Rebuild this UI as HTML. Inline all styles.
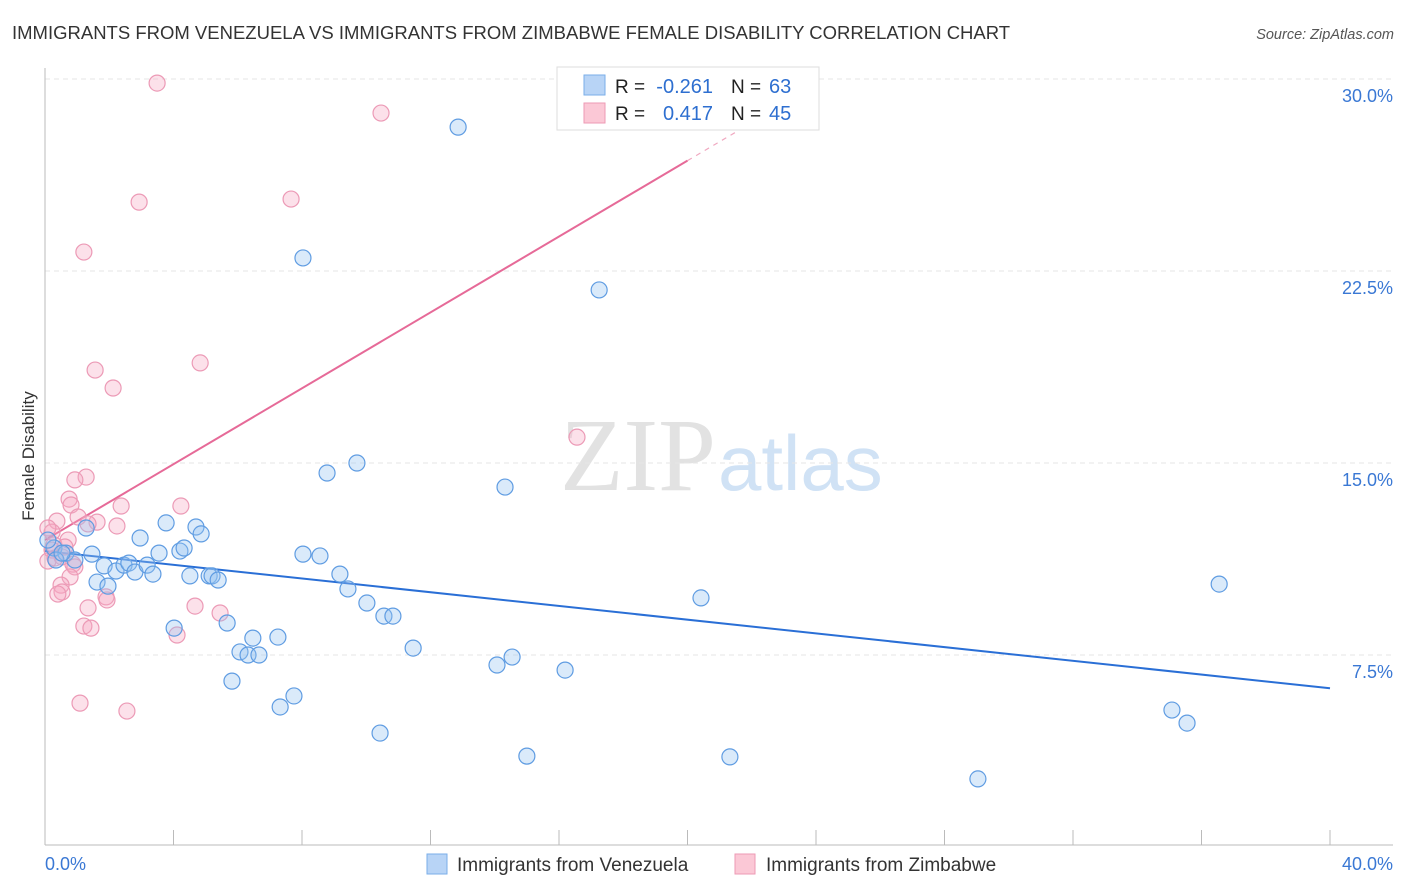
<!DOCTYPE html>
<html><head><meta charset="utf-8"><style>
body{margin:0;background:#fff;font-family:"Liberation Sans",sans-serif;}
svg{display:block}
</style></head><body>
<svg id="chart" width="1406" height="892">
<text x="12" y="39" font-size="18.5" fill="#333">IMMIGRANTS FROM VENEZUELA VS IMMIGRANTS FROM ZIMBABWE FEMALE DISABILITY CORRELATION CHART</text>
<text x="1394" y="39" font-size="14.5" fill="#555" font-style="italic" text-anchor="end">Source: ZipAtlas.com</text>
<text x="34" y="456" font-size="17" fill="#333" text-anchor="middle" transform="rotate(-90 34 456)">Female Disability</text>
<text x="716" y="490" font-size="104" fill="#e2e2e2" text-anchor="end" font-family="Liberation Serif, serif">ZIP</text>
<text x="718" y="490" font-size="78" fill="#d0e2f5">atlas</text>
<g id="grid"></g><g id="axes"></g><g id="lines"></g><g id="pts"></g>
<g>
<rect x="557" y="67" width="262" height="63" fill="#fff" stroke="#ddd"/>
<rect x="584" y="75" width="21" height="20" fill="#b8d4f6" stroke="#7aaee8"/>
<rect x="584" y="103" width="21" height="20" fill="#fbc8d6" stroke="#ee9ab4"/>
<text x="615" y="93" font-size="19" fill="#222">R =</text>
<text x="713" y="93" font-size="20" fill="#2e6fd0" text-anchor="end">-0.261</text>
<text x="731" y="93" font-size="19" fill="#222">N =</text>
<text x="769" y="93" font-size="20" fill="#2e6fd0">63</text>
<text x="615" y="120" font-size="19" fill="#222">R =</text>
<text x="713" y="120" font-size="20" fill="#2e6fd0" text-anchor="end">0.417</text>
<text x="731" y="120" font-size="19" fill="#222">N =</text>
<text x="769" y="120" font-size="20" fill="#2e6fd0">45</text>
</g>
<g>
<rect x="427" y="854" width="20" height="20" fill="#b8d4f6" stroke="#7aaee8"/>
<text x="457" y="871" font-size="19" fill="#333">Immigrants from Venezuela</text>
<rect x="735" y="854" width="20" height="20" fill="#fbc8d6" stroke="#ee9ab4"/>
<text x="766" y="871" font-size="19" fill="#333">Immigrants from Zimbabwe</text>
</g>
</svg>
<script>
const yTicks=[7.5,15,22.5,30];
const yTickLabels=["7.5%","15.0%","22.5%","30.0%"];
const xTickLabels=["0.0%","40.0%"];
const blueX=[12.86,8.03,17.25,8.78,9.71,14.32,36.55,20.42,1.28,3.77,4.70,4.86,2.96,0.28,0.65,1.46,3.55,4.20,4.33,8.03,8.56,1.84,2.21,2.46,2.61,2.80,3.18,3.36,1.62,1.96,4.51,5.11,5.20,5.39,9.18,9.43,10.02,10.55,10.83,5.67,4.02,6.47,7.25,6.07,6.32,6.66,11.46,14.07,14.54,16.19,5.82,7.75,7.32,10.43,15.00,21.32,29.04,35.08,35.55,0.09,0.34,0.93,0.53];
const blueY=[28.12,23.01,21.76,14.61,15.00,14.06,10.27,9.73,12.46,12.66,12.50,12.23,12.07,11.68,11.48,11.44,11.48,11.56,11.68,11.44,11.37,10.98,10.78,11.01,11.09,10.74,11.01,10.66,10.35,10.19,10.59,10.59,10.59,10.43,10.66,10.08,9.53,9.02,9.02,8.75,8.55,8.16,8.20,7.62,7.50,7.50,7.77,7.11,7.42,6.91,6.48,5.90,5.47,4.45,3.55,3.52,2.66,5.35,4.84,11.99,11.21,11.21,11.48];
const pinkX=[3.49,10.46,2.93,7.66,1.21,4.83,1.56,2.12,16.56,1.28,0.93,0.75,0.81,4.23,2.37,1.03,1.62,2.24,1.34,0.37,0.22,0.72,0.28,0.22,0.53,0.09,0.87,0.93,0.78,0.50,0.53,0.40,1.34,1.90,1.93,4.67,5.45,1.21,1.43,4.11,1.09,2.55,0.09,0.31,0.62];
const pinkY=[29.84,28.67,25.19,25.31,23.24,18.91,18.63,17.93,16.01,14.45,14.34,13.59,13.36,13.32,13.32,12.89,12.69,12.54,12.62,12.73,12.30,11.99,11.80,11.60,11.33,11.17,11.05,10.94,10.55,10.23,9.96,9.88,9.34,9.77,9.65,9.41,9.14,8.63,8.55,8.28,5.62,5.31,12.46,11.29,11.72];
const blueTrend=[11.56,-0.134]; // intercept, slope
const pinkTrend=[11.99,0.741];
const NS="http://www.w3.org/2000/svg";
const X=v=>45+v/40*1285, Y=v=>847-v/7.5*192;
function mk(t,a,p){const e=document.createElementNS(NS,t);for(const k in a)e.setAttribute(k,a[k]);p.appendChild(e);return e;}
const grid=document.getElementById('grid'),axes=document.getElementById('axes'),lines=document.getElementById('lines'),pts=document.getElementById('pts');
yTicks.forEach((v,i)=>{
 const l=mk('line',{x1:45,x2:1393,y1:Y(v),y2:Y(v),stroke:'#e6e6e6','stroke-dasharray':'5,4'},grid);
 
 
 const t=mk('text',{x:1393,y:Y(v)+23,'font-size':18,fill:'#3a78d4','text-anchor':'end'},axes);
 t.textContent=yTickLabels[i];
 
 
});
mk('line',{x1:45,x2:45,y1:68,y2:845,stroke:'#bbb'},axes);
mk('line',{x1:45,x2:1393,y1:845,y2:845,stroke:'#bbb'},axes);
for(let i=0;i<=10;i++){const tk=mk('line',{x1:X(i*4),x2:X(i*4),y1:830,y2:845,stroke:'#bbb'},axes);
 
 }
[[0,'start',45],[1,'end',1393]].forEach(([i,a,x])=>{const t=mk('text',{x:x,y:870,'font-size':18,fill:'#3a78d4','text-anchor':a},axes);t.textContent=xTickLabels[i];
 
 });
const bl=mk('line',{x1:X(0),y1:Y(blueTrend[0]),x2:X(40),y2:Y(blueTrend[0]+40*blueTrend[1]),stroke:'#2a6fd6','stroke-width':2},lines);


const pl=mk('line',{x1:X(0),y1:Y(pinkTrend[0]),x2:X(20),y2:Y(pinkTrend[0]+20*pinkTrend[1]),stroke:'#e66a98','stroke-width':2},lines);


const pd=mk('line',{x1:X(20),y1:Y(pinkTrend[0]+20*pinkTrend[1]),x2:X(24.1),y2:Y(pinkTrend[0]+24.1*pinkTrend[1]),stroke:'#f0a8c0','stroke-width':1.2,'stroke-dasharray':'5,5'},lines);


pinkX.forEach((v,i)=>{const c=mk('circle',{cx:X(v),cy:Y(pinkY[i]),r:8,fill:'rgba(245,170,195,0.35)',stroke:'#ec9ab6','stroke-width':1.2},pts);
 
 });
blueX.forEach((v,i)=>{const c=mk('circle',{cx:X(v),cy:Y(blueY[i]),r:8,fill:'rgba(150,195,240,0.35)',stroke:'#5f9ce2','stroke-width':1.2},pts);
 
 });
</script>
</body></html>
